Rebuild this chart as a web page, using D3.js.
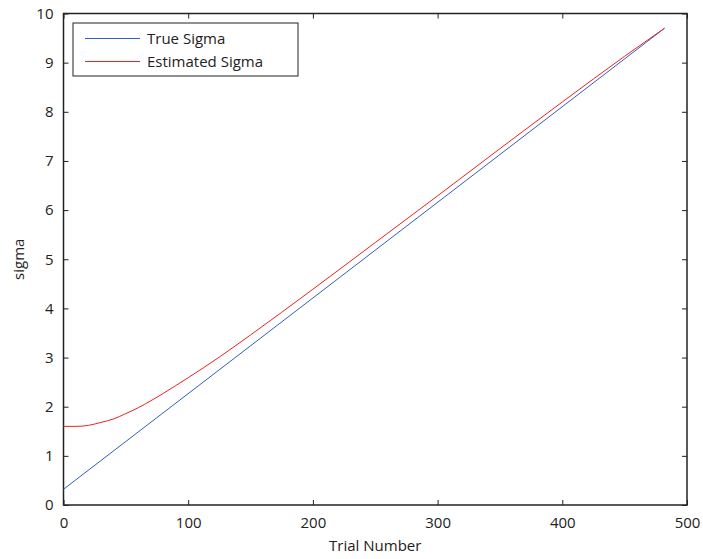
<!DOCTYPE html>
<html>
<head>
<meta charset="utf-8">
<script src="https://cdn.jsdelivr.net/npm/d3@7"></script>
<style>
  body { margin: 0; background: #fff; }
  text { font-family: "Open Sans", "DejaVu Sans", sans-serif; fill: #222; }
</style>
</head>
<body>
<script>
'use strict';

// data
const trueTrials = [0, 482];
const trueSigma = [0.32, 9.70];

const estTrials = [0, 10, 20, 30, 40, 50, 60, 70, 80, 90, 100, 125, 150, 200, 250, 300, 350, 400, 450, 482];
const estSigma = [1.60, 1.60, 1.62, 1.68, 1.75, 1.86, 1.98, 2.12, 2.27, 2.43, 2.59, 3.01, 3.46, 4.39, 5.34, 6.29, 7.25, 8.20, 9.13, 9.70];

const xTicks = [0, 100, 200, 300, 400, 500];
const yTicks = [0, 1, 2, 3, 4, 5, 6, 7, 8, 9, 10];
const seriesNames = ["True Sigma", "Estimated Sigma"];
const seriesColors = ["#3060b8", "#f02020"];

const width = 703, height = 559;
const margin = { left: 63.5, right: 16, top: 13.5, bottom: 54 };

const svg = d3.select('body').append('svg')
  .attr('width', width)
  .attr('height', height);

// scales
let x = d3.scaleLinear().domain([0, 500]).range([margin.left, width - margin.right]);
let y = d3.scaleLinear().domain([0, 10]).range([height - margin.bottom, margin.top]);

// axes with inward ticks, labels on bottom / left only
svg.append('g')
  .attr('transform', `translate(0, ${y(0)})`)
  .call(d3.axisBottom(x).tickValues(xTicks).tickSize(-5).tickPadding(12))
  .call(g => g.select('.domain').remove());

svg.append('g')
  .attr('transform', `translate(0, ${y(10)})`)
  .call(d3.axisTop(x).tickValues(xTicks).tickSize(-5).tickFormat(''))
  .call(g => g.select('.domain').remove());

svg.append('g')
  .attr('transform', `translate(${x(0)}, 0)`)
  .call(d3.axisLeft(y).tickValues(yTicks).tickSize(-5).tickPadding(10))
  .call(g => g.select('.domain').remove());

svg.append('g')
  .attr('transform', `translate(${x(500)}, 0)`)
  .call(d3.axisRight(y).tickValues(yTicks).tickSize(-5).tickFormat(''))
  .call(g => g.select('.domain').remove());

svg.selectAll('.tick line').attr('stroke', '#222');
svg.selectAll('.tick text').style('font-size', '15px');

// frame
svg.append('rect')
  .attr('x', x(0))
  .attr('y', y(10))
  .attr('width', x(500) - x(0))
  .attr('height', y(0) - y(10))
  .attr('fill', 'none')
  .attr('stroke', '#222')
  .attr('stroke-width', 1.5);

// lines
let line = d3.line().x(d => x(d[0])).y(d => y(d[1]));
let estLine = d3.line().x(d => x(d[0])).y(d => y(d[1])).curve(d3.curveMonotoneX);

svg.append('path')
  .datum(d3.zip(trueTrials, trueSigma))
  .attr('d', line)
  .attr('fill', 'none')
  .attr('stroke', seriesColors[0])
  .attr('stroke-width', 1);

svg.append('path')
  .datum(d3.zip(estTrials, estSigma))
  .attr('d', estLine)
  .attr('fill', 'none')
  .attr('stroke', seriesColors[1])
  .attr('stroke-width', 1);

// labels
svg.append('text')
  .attr('x', (x(0) + x(500)) / 2)
  .attr('y', 551)
  .attr('text-anchor', 'middle')
  .style('font-size', '15px')
  .text('Trial Number');

svg.append('text')
  .attr('transform', `translate(24, ${(y(0) + y(10)) / 2}) rotate(-90)`)
  .attr('text-anchor', 'middle')
  .style('font-size', '15px')
  .text('sigma');

// legend
let legend = svg.append('g').attr('transform', 'translate(73, 23)');
legend.append('rect')
  .attr('width', 225)
  .attr('height', 53)
  .attr('fill', '#fff')
  .attr('stroke', '#222')
  .attr('stroke-width', 1);

seriesNames.forEach(function(name, i) {
  let row = 15.5 + i * 23;
  legend.append('line')
    .attr('x1', 12).attr('x2', 67)
    .attr('y1', row).attr('y2', row)
    .attr('stroke', seriesColors[i]);
  legend.append('text')
    .attr('x', 74)
    .attr('y', row)
    .attr('dy', '0.35em')
    .style('font-size', '15px')
    .text(name);
});
</script>
</body>
</html>
